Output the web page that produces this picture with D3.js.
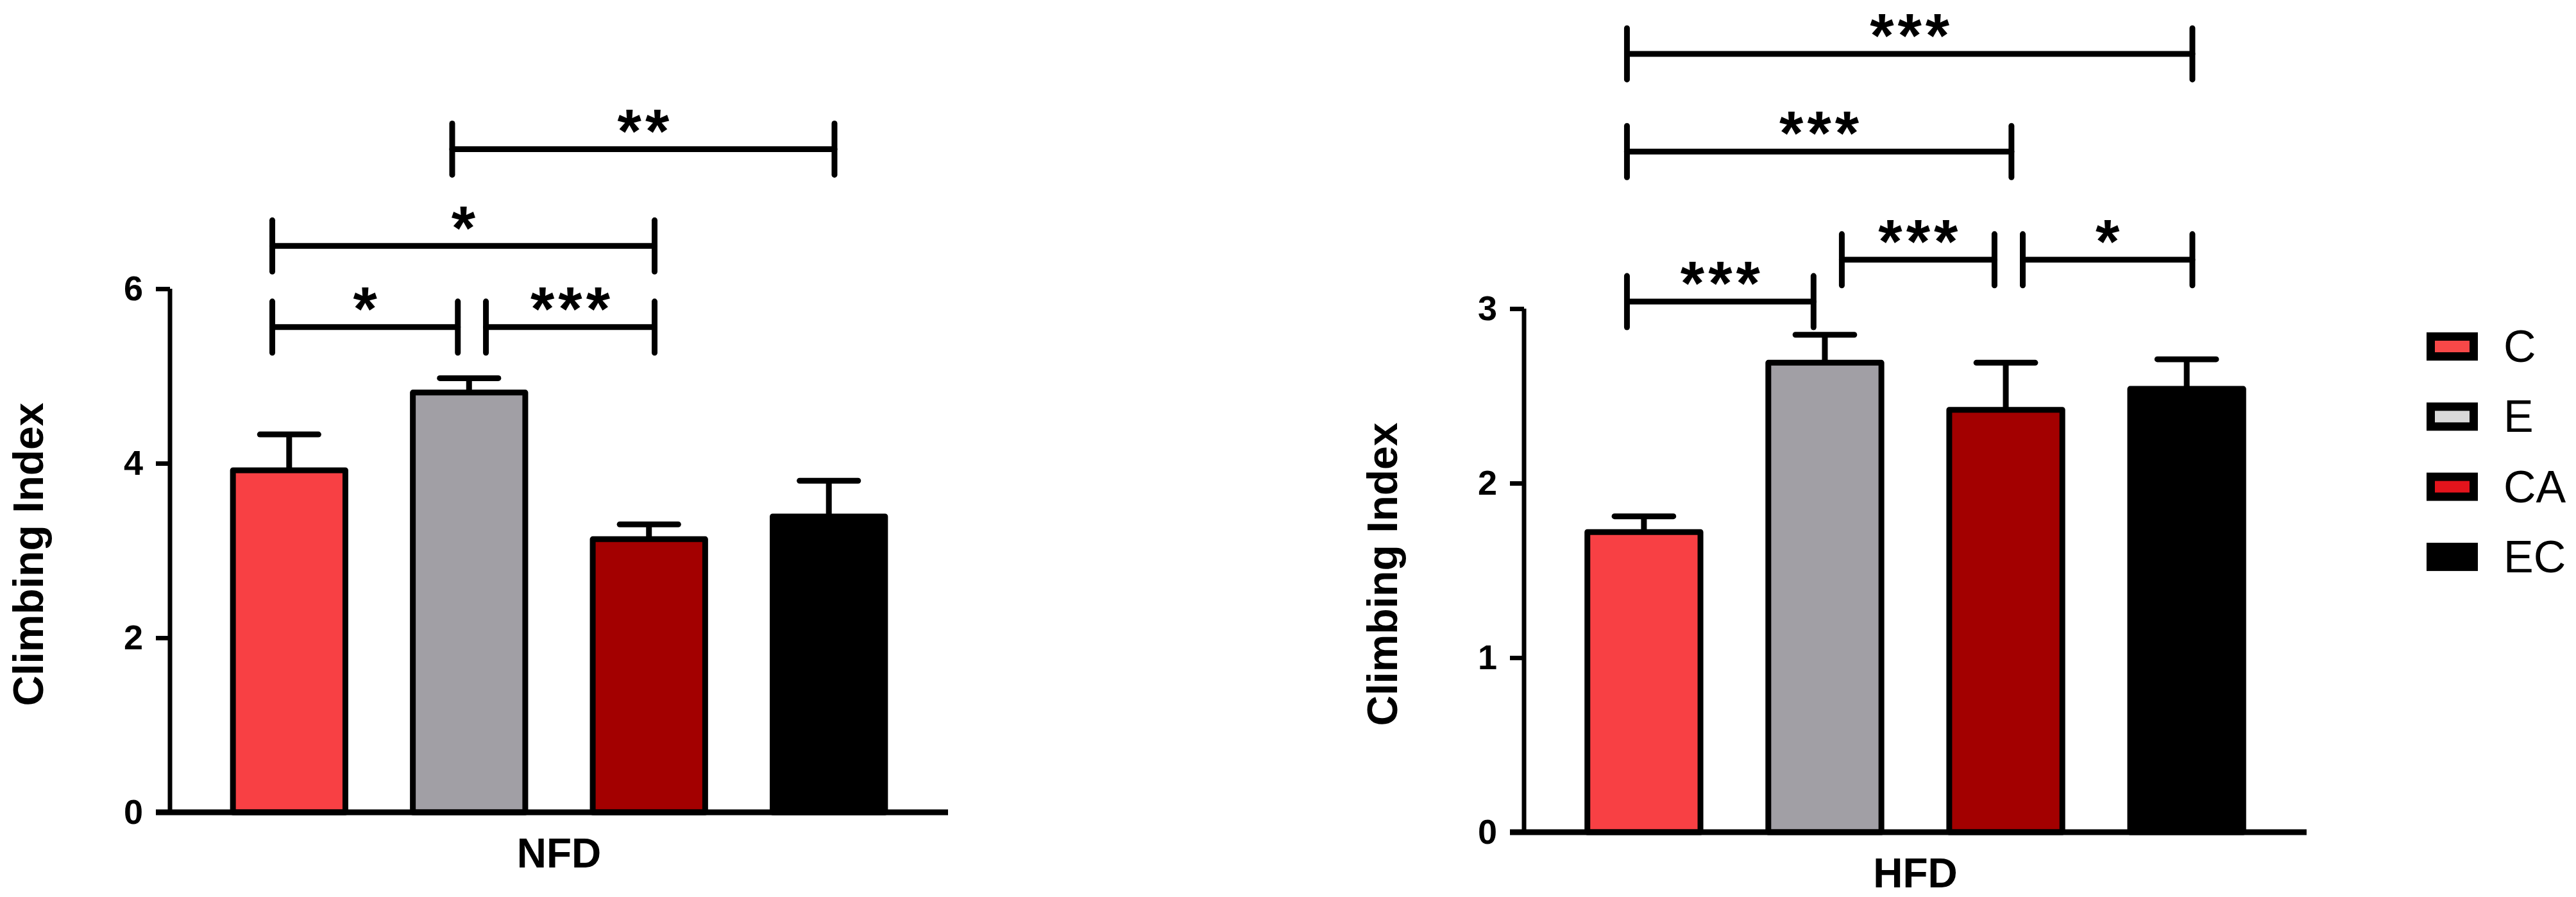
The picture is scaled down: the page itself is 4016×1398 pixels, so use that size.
<!DOCTYPE html>
<html><head><meta charset="utf-8">
<script src="https://cdn.jsdelivr.net/npm/d3@7"></script>
<style>body{margin:0;background:#fff}svg{display:block}</style>
</head><body>
<script>
// ---------- data ----------
const categories = ["C", "E", "CA", "EC"];
const nfdMeans = [3.92, 4.81, 3.13, 3.39];
const nfdSEM   = [0.41, 0.165, 0.17, 0.41];
const hfdMeans = [1.72, 2.69, 2.42, 2.54];
const hfdSEM   = [0.09, 0.16, 0.27, 0.17];
const nfdTicks = [0, 2, 4, 6];
const hfdTicks = [0, 1, 2, 3];
const groupLabels = ["NFD", "HFD"];
const yTitle = "Climbing Index";
// significance brackets: [from, to, level (y units), label]
const nfdBrackets = [["C","E",5.56,"*"],["E","CA",5.56,"***"],["C","CA",6.49,"*"],["E","EC",7.6,"**"]];
const hfdBrackets = [["C","E",3.04,"***"],["E","CA",3.28,"***"],["CA","EC",3.28,"*"],["C","CA",3.90,"***"],["C","EC",4.46,"***"]];
const barColors = ["#f84044", "#a19fa5", "#a30000", "#000000"];
const legendColors = ["#f84848", "#d9d9d9", "#e3141c", "#000000"];

// ---------- layout ----------
const W = 4016, H = 1398;
const svg = d3.select("body").append("svg").attr("width", W).attr("height", H)
  .style("font-family", "'Liberation Sans', Arial, sans-serif");

const panels = [
  {label: groupLabels[0], means: nfdMeans, sem: nfdSEM, ticks: nfdTicks, brackets: nfdBrackets,
   ax: 265, xEnd: 1478, y0: 1266, h: 816},
  {label: groupLabels[1], means: hfdMeans, sem: hfdSEM, ticks: hfdTicks, brackets: hfdBrackets,
   ax: 2376, xEnd: 3596, y0: 1297, h: 816}
];

const LW = 9;
const STAR_FS = 96;
panels.forEach(p => {
  const g = svg.append("g");
  const yMax = p.ticks[p.ticks.length - 1];
  const y = d3.scaleLinear().domain([0, yMax]).range([p.y0, p.y0 - p.h]);
  const x = d3.scaleBand().domain(categories).range([p.ax, p.xEnd]).paddingInner(0.375).paddingOuter(0.35);
  const bw = x.bandwidth();
  const cx = c => x(c) + bw / 2;

  // error bars (upper only)
  categories.forEach((c, i) => {
    const top = y(p.means[i] + p.sem[i]);
    g.append("line").attr("x1", cx(c)).attr("x2", cx(c)).attr("y1", y(p.means[i])).attr("y2", top)
      .attr("stroke", "#000").attr("stroke-width", LW);
    g.append("line").attr("x1", cx(c) - bw * 0.26).attr("x2", cx(c) + bw * 0.26).attr("y1", top).attr("y2", top)
      .attr("stroke", "#000").attr("stroke-width", LW).attr("stroke-linecap", "round");
  });

  // bars
  g.selectAll("rect.bar").data(categories).join("rect").attr("class", "bar")
    .attr("x", c => x(c)).attr("width", bw)
    .attr("y", (c, i) => y(p.means[i])).attr("height", (c, i) => y(0) - y(p.means[i]))
    .attr("fill", (c, i) => barColors[i]).attr("stroke", "#000").attr("stroke-width", LW)
    .attr("stroke-linejoin", "round");

  // y axis
  const yAxis = d3.axisLeft(y).tickValues(p.ticks).tickSize(22).tickPadding(20).tickFormat(d3.format("d"));
  const ya = g.append("g").attr("transform", `translate(${p.ax},0)`).call(yAxis);
  ya.select(".domain").remove();
  ya.selectAll(".tick line").attr("stroke", "#000").attr("stroke-width", 7);
  ya.selectAll(".tick text").attr("font-size", 54).attr("font-weight", "bold").attr("fill", "#000")
    .attr("font-family", "'Liberation Sans', Arial, sans-serif");
  g.append("line").attr("x1", p.ax).attr("x2", p.ax).attr("y1", y(0)).attr("y2", y(yMax))
    .attr("stroke", "#000").attr("stroke-width", 7);
  // x axis baseline
  g.append("line").attr("x1", p.ax - 22).attr("x2", p.xEnd).attr("y1", y(0)).attr("y2", y(0))
    .attr("stroke", "#000").attr("stroke-width", 9);

  // axis titles
  g.append("text").attr("x", (p.ax + p.xEnd) / 2).attr("y", p.y0 + 86)
    .attr("text-anchor", "middle").attr("font-size", 64).attr("font-weight", "bold").text(p.label);
  g.append("text").attr("transform", `translate(${p.ax - 198},${p.y0 - p.h / 2 + 6}) rotate(-90)`)
    .attr("text-anchor", "middle").attr("font-size", 66).attr("font-weight", "bold").text(yTitle);

  // significance brackets
  const near = (a, b) => Math.abs(y(a) - y(b)) < 90;
  p.brackets.forEach(b => {
    const [f, t, lev, lab] = b;
    const sharedStart = p.brackets.some(o => o !== b && o[1] === f && near(o[2], lev));
    const sharedEnd = p.brackets.some(o => o !== b && o[0] === t && near(o[2], lev));
    const x1 = cx(f) + (sharedStart ? 0.15 : -0.15) * bw;
    const x2 = cx(t) + (sharedEnd ? -0.1 : 0.05) * bw;
    const yl = y(lev);
    const bg = g.append("g").attr("stroke", "#000").attr("stroke-width", LW).attr("stroke-linecap", "round");
    bg.append("line").attr("x1", x1).attr("x2", x2).attr("y1", yl).attr("y2", yl);
    bg.append("line").attr("x1", x1).attr("x2", x1).attr("y1", yl - 40).attr("y2", yl + 40);
    bg.append("line").attr("x1", x2).attr("x2", x2).attr("y1", yl - 40).attr("y2", yl + 40);
    // star centre ~50px above the bracket line; asterisk centre sits ~0.565em above baseline
    g.append("text").attr("x", (x1 + x2) / 2 + 3).attr("y", yl - 50 + 0.565 * STAR_FS).attr("text-anchor", "middle")
      .attr("font-size", STAR_FS).attr("font-weight", "bold").attr("letter-spacing", 6)
      .attr("fill", "#000").text(lab);
  });
});

// legend
const lg = svg.append("g");
categories.forEach((c, i) => {
  const cy = 540 + i * 109.3;
  lg.append("rect").attr("x", 3783 + 6.5).attr("y", cy - 22 + 6.5).attr("width", 80 - 13).attr("height", 44 - 13)
    .attr("fill", legendColors[i]).attr("stroke", "#000").attr("stroke-width", 13);
  lg.append("text").attr("x", 3903).attr("y", cy).attr("dominant-baseline", "central")
    .attr("font-size", 70).attr("fill", "#000").text(c);
});
</script>
</body></html>
